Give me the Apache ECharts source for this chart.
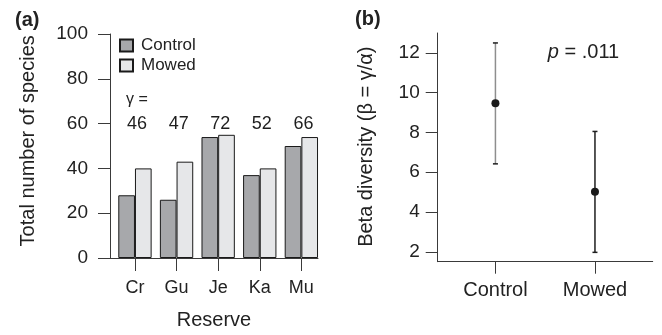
<!DOCTYPE html>
<html>
<head>
<meta charset="utf-8">
<script src="https://cdn.jsdelivr.net/npm/echarts@6/dist/echarts.min.js"></script>
<style>
html,body{margin:0;padding:0;background:#fff;}
#chart{width:662px;height:335px;}
</style>
</head>
<body>
<div id="chart"></div>
<script>
// ---- data ----
const reserves = ['Cr', 'Gu', 'Je', 'Ka', 'Mu'];
const controlSpecies = [28, 26, 54, 37, 50];
const mowedSpecies = [40, 43, 55, 40, 54];
const gammaTotals = [46, 47, 72, 52, 66];
const speciesTicks = [0, 20, 40, 60, 80, 100];

const treatments = ['Control', 'Mowed'];
const betaMean = [9.47, 5.02];
const betaLower = [6.42, 1.97];
const betaUpper = [12.5, 8.05];
const betaTicks = [2, 4, 6, 8, 10, 12];

// ---- style ----
const FONT = '"Liberation Sans", Arial, Helvetica, sans-serif';
const TXT = '#222';
const AX = '#3a3a3a';
const errColors = ['#8e8e8e', '#1e1e1e'];

const pos = reserves.map((_, i) => i + 1);
const tpos = treatments.map((_, i) => i + 1);

const chart = echarts.init(document.getElementById('chart'), null, {renderer: 'canvas'});

const option = {
  animation: false,
  textStyle: {fontFamily: FONT, color: TXT},
  grid: [
    {left: 110, right: 344, top: 34, bottom: 73},
    {left: 437.7, right: 9.3, top: 33, bottom: 73.3}
  ],
  legend: {
    data: ['Control', 'Mowed'],
    orient: 'vertical',
    left: 119, top: 37, padding: 0,
    itemWidth: 13, itemHeight: 12, itemGap: 3,
    icon: 'rect',
    textStyle: {fontFamily: FONT, fontSize: 17, color: TXT, padding: [0, 0, 0, 3]}
  },
  xAxis: [
    {
      gridIndex: 0, type: 'value', min: 0.4, max: 5.4,
      axisLine: {show: true, lineStyle: {color: AX, width: 1}},
      axisTick: {show: true, length: 13, customValues: pos, lineStyle: {color: AX}},
      axisLabel: {customValues: pos, formatter: v => reserves[Math.round(v) - 1] || '',
        fontSize: 18, color: TXT, fontFamily: FONT, margin: 21},
      splitLine: {show: false},
      name: 'Reserve', nameLocation: 'middle', nameGap: 52,
      nameTextStyle: {fontSize: 20, color: TXT, fontFamily: FONT}
    },
    {
      gridIndex: 1, type: 'value', min: 0.42, max: 2.58,
      axisLine: {show: true, lineStyle: {color: AX, width: 1}},
      axisTick: {show: true, length: 12, customValues: tpos, lineStyle: {color: AX}},
      axisLabel: {customValues: tpos, formatter: v => treatments[Math.round(v) - 1] || '',
        fontSize: 20, color: TXT, fontFamily: FONT, margin: 19},
      splitLine: {show: false}
    }
  ],
  yAxis: [
    {
      gridIndex: 0, type: 'value', min: 0, max: 100, interval: 20,
      axisLine: {show: true, lineStyle: {color: AX, width: 1}},
      axisTick: {show: true, length: 12, lineStyle: {color: AX}},
      axisLabel: {fontSize: 19, color: TXT, fontFamily: FONT, margin: 22},
      splitLine: {show: false}
    },
    {
      gridIndex: 1, type: 'value', min: 1.5, max: 13,
      axisLine: {show: true, lineStyle: {color: AX, width: 1}},
      axisTick: {show: true, length: 12, customValues: betaTicks, lineStyle: {color: AX}},
      axisLabel: {customValues: betaTicks, fontSize: 19, color: TXT, fontFamily: FONT, margin: 18},
      splitLine: {show: false}
    }
  ],
  series: [
    {
      name: 'Control', type: 'bar', xAxisIndex: 0, yAxisIndex: 0,
      data: controlSpecies.map((v, i) => [pos[i], v]),
      barWidth: 16.67, barGap: '0%',
      itemStyle: {color: '#a7a8ab', borderColor: '#1a1a1a', borderWidth: 1}
    },
    {
      name: 'Mowed', type: 'bar', xAxisIndex: 0, yAxisIndex: 0,
      data: mowedSpecies.map((v, i) => [pos[i], v]),
      barWidth: 16.67, barGap: '0%',
      itemStyle: {color: '#e6e7e9', borderColor: '#1a1a1a', borderWidth: 1}
    },
    {
      name: 'gamma', type: 'scatter', xAxisIndex: 0, yAxisIndex: 0,
      data: gammaTotals.map((g, i) => [pos[i] + 0.05, 60, g]),
      symbolSize: 1, itemStyle: {color: 'rgba(0,0,0,0)', opacity: 1},
      label: {show: true, position: 'inside', formatter: p => String(p.value[2]),
        fontSize: 18, color: '#1e1e1e', opacity: 1, fontFamily: FONT, textBorderWidth: 0, textShadowBlur: 0},
      silent: true
    },
    {
      name: 'beta-err', type: 'custom', xAxisIndex: 1, yAxisIndex: 1,
      data: betaMean.map((m, i) => [tpos[i], betaLower[i], betaUpper[i]]),
      renderItem: function (params, api) {
        const x = api.value(0);
        const lo = api.coord([x, api.value(1)]);
        const hi = api.coord([x, api.value(2)]);
        const c = errColors[params.dataIndex];
        const w = 2.5;
        const st = {stroke: c, lineWidth: 1.5};
        return {
          type: 'group',
          children: [
            {type: 'line', shape: {x1: lo[0], y1: lo[1], x2: hi[0], y2: hi[1]}, style: st},
            {type: 'line', shape: {x1: lo[0] - w, y1: lo[1], x2: lo[0] + w, y2: lo[1]}, style: {stroke: '#1e1e1e', lineWidth: 1.5}},
            {type: 'line', shape: {x1: hi[0] - w, y1: hi[1], x2: hi[0] + w, y2: hi[1]}, style: {stroke: '#1e1e1e', lineWidth: 1.5}}
          ]
        };
      },
      silent: true, z: 2
    },
    {
      name: 'beta-mean', type: 'scatter', xAxisIndex: 1, yAxisIndex: 1,
      data: betaMean.map((m, i) => [tpos[i], m]),
      symbol: 'circle', symbolSize: 8,
      itemStyle: {color: '#1a1a1a', opacity: 1}, z: 3, silent: true
    }
  ],
  graphic: [
    {type: 'text', left: 15, top: 10, style: {text: '(a)', font: 'bold 20px ' + FONT, fill: TXT}},
    {type: 'text', left: 355, top: 9, style: {text: '(b)', font: 'bold 20px ' + FONT, fill: TXT}},
    {type: 'text', x: 28, y: 140.8, rotation: Math.PI / 2,
      style: {text: 'Total number of species', font: '20px ' + FONT, fill: TXT, textAlign: 'center', textVerticalAlign: 'middle'}},
    {type: 'text', x: 366, y: 146.7, rotation: Math.PI / 2,
      style: {text: 'Beta diversity (\u03B2 = \u03B3/\u03B1)', font: '20px ' + FONT, fill: TXT, textAlign: 'center', textVerticalAlign: 'middle'}},
    {type: 'text', x: 126, y: 100,
      style: {text: '\u03B3 =', font: '16px ' + FONT, fill: TXT, textAlign: 'left', textVerticalAlign: 'middle'}},
    {type: 'text', x: 583.5, y: 52,
      style: {
        text: '{i|p} = .011',
        textAlign: 'center', textVerticalAlign: 'middle',
        font: '20px ' + FONT, fill: TXT,
        rich: {i: {fontStyle: 'italic', fontSize: 20, fontFamily: FONT, fill: TXT}}
      }}
  ]
};

chart.setOption(option);
</script>
</body>
</html>
